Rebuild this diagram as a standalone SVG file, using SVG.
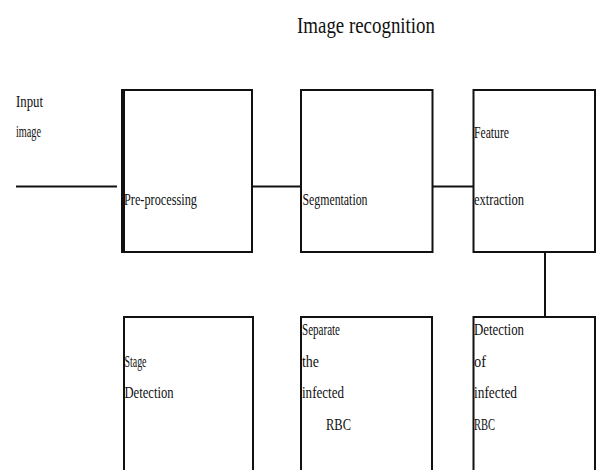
<svg xmlns="http://www.w3.org/2000/svg" width="596" height="470" viewBox="0 0 596 470">
<style>
.box{fill:#fff;stroke:#111;stroke-width:2}
.ln{stroke:#111;stroke-width:2;fill:none}
text{font-family:"Liberation Serif","Times New Roman",serif;fill:#111;font-size:16px}
.t{font-size:24px}
</style>
<rect width="596" height="470" fill="#fff"/>
<text class="t" x="297" y="33" textLength="138" lengthAdjust="spacingAndGlyphs">Image recognition</text>
<g id="connectors">
<line class="ln" x1="16" y1="186.5" x2="117" y2="186.5"/>
<line class="ln" x1="252" y1="186.5" x2="301" y2="186.5"/>
<line class="ln" x1="433" y1="186.5" x2="474" y2="186.5"/>
<line class="ln" x1="545" y1="252" x2="545" y2="317"/>
</g>
<g id="input">
<text x="16" y="106.5" textLength="27" lengthAdjust="spacingAndGlyphs">Input</text>
<text x="16" y="137" textLength="25" lengthAdjust="spacingAndGlyphs">image</text>
</g>
<g id="preprocessing">
<rect class="box" x="122" y="90" width="130" height="162"/>
<line x1="123" y1="89" x2="123" y2="253" stroke="#111" stroke-width="4"/>
<text x="124" y="205" textLength="73" lengthAdjust="spacingAndGlyphs">Pre-processing</text>
</g>
<g id="segmentation">
<rect class="box" x="301" y="90" width="131.5" height="162"/>
<text x="302.5" y="205" textLength="65" lengthAdjust="spacingAndGlyphs">Segmentation</text>
</g>
<g id="feature">
<rect class="box" x="473.5" y="90" width="121.5" height="162"/>
<text x="474" y="138" textLength="35" lengthAdjust="spacingAndGlyphs">Feature</text>
<text x="474" y="205" textLength="50" lengthAdjust="spacingAndGlyphs">extraction</text>
</g>
<g id="stage">
<rect class="box" x="124" y="317" width="129" height="170"/>
<text x="124.5" y="366.5" textLength="22" lengthAdjust="spacingAndGlyphs">Stage</text>
<text x="124.5" y="398" textLength="49" lengthAdjust="spacingAndGlyphs">Detection</text>
</g>
<g id="separate">
<rect class="box" x="301" y="317" width="131" height="170"/>
<text x="302" y="335" textLength="38" lengthAdjust="spacingAndGlyphs">Separate</text>
<text x="302" y="366.5" textLength="17" lengthAdjust="spacingAndGlyphs">the</text>
<text x="302" y="398" textLength="42" lengthAdjust="spacingAndGlyphs">infected</text>
<text x="326" y="430" textLength="25" lengthAdjust="spacingAndGlyphs">RBC</text>
</g>
<g id="detection">
<rect class="box" x="473.5" y="317" width="121.5" height="170"/>
<text x="474" y="335" textLength="50" lengthAdjust="spacingAndGlyphs">Detection</text>
<text x="474" y="366.5" textLength="12" lengthAdjust="spacingAndGlyphs">of</text>
<text x="474" y="398" textLength="43" lengthAdjust="spacingAndGlyphs">infected</text>
<text x="474" y="430" textLength="21" lengthAdjust="spacingAndGlyphs">RBC</text>
</g>
</svg>
